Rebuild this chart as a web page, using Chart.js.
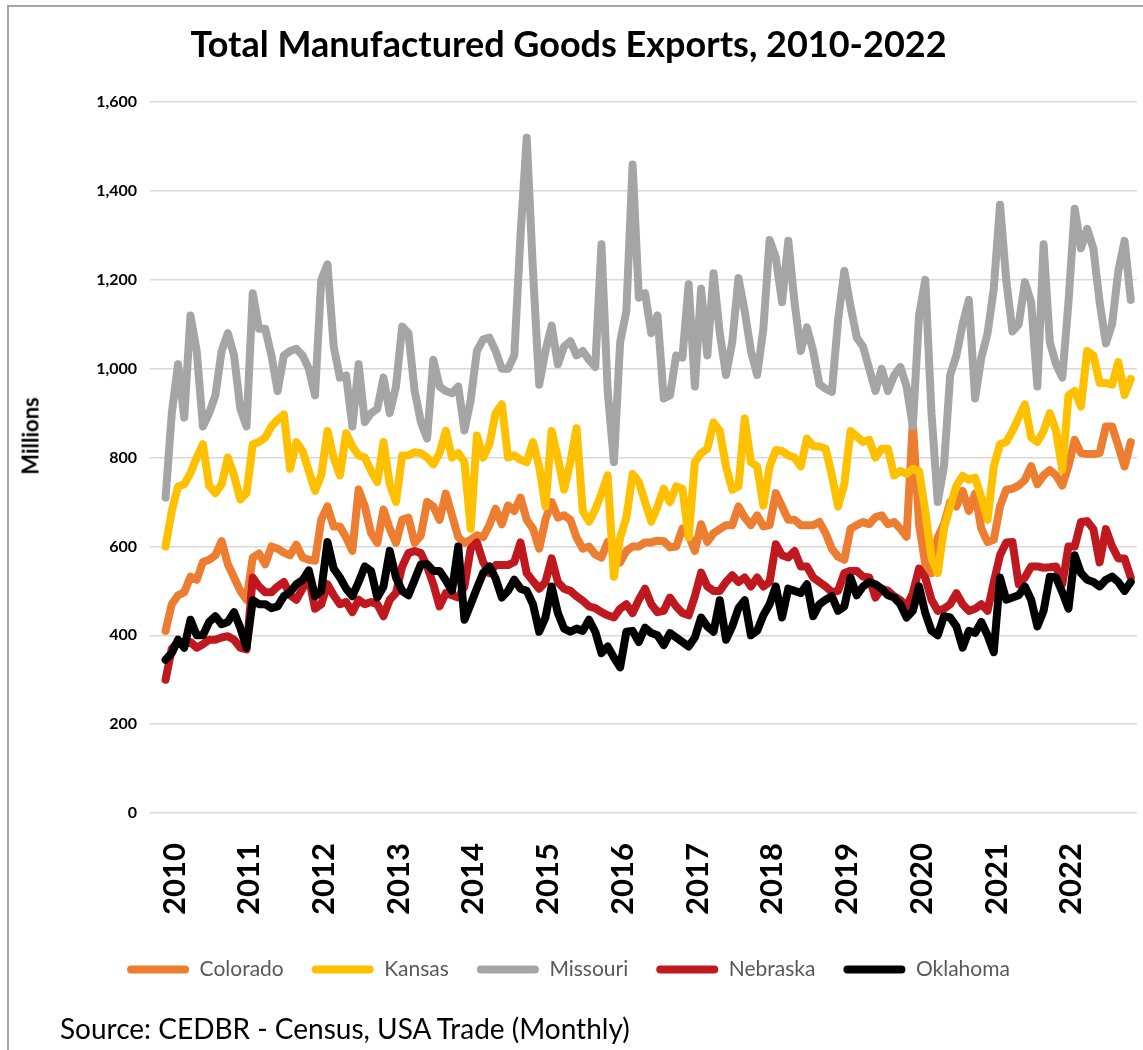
<!DOCTYPE html>
<html lang="en">
<head>
<meta charset="UTF-8">
<title>Total Manufactured Goods Exports, 2010-2022</title>
<script src="https://cdn.jsdelivr.net/npm/chart.js@4"></script>
<style>
  html, body { margin: 0; background: #fff; }
  body { width: 1143px; height: 1050px; position: relative; overflow: hidden; font-family: Lato, "Open Sans", sans-serif; }
  .frame { position: absolute; left: 7px; top: 5px; width: 1200px; height: 1100px; border: 2px solid #a6a6a6; box-sizing: border-box; }
  #chart { position: absolute; left: 0; top: 0; }
  .ytitle { position: absolute; left: 30px; top: 436px; transform: translate(-50%, -50%) rotate(-90deg); font-weight: 700; font-size: 22px; white-space: nowrap; color: #000; }
  .source { position: absolute; left: 60px; top: 1028px; transform: translateY(-50%); font-size: 28px; color: #000; white-space: nowrap; }
</style>
</head>
<body>
<div class="frame"></div>
<canvas id="chart" width="1143" height="1050"></canvas>
<div class="ytitle">Millions</div>
<div class="source">Source: CEDBR - Census, USA Trade (Monthly)</div>

<script>
  // tick labels, one per January
  const years = ['2010', '2011', '2012', '2013', '2014', '2015', '2016',
                 '2017', '2018', '2019', '2020', '2021', '2022'];

  const states = ['Colorado', 'Kansas', 'Missouri', 'Nebraska', 'Oklahoma'];

  // monthly values, millions of dollars, Jan 2010 .. Dec 2022 (one row per year)
  const colorado = [
    410, 470, 490, 497, 532, 525, 565, 570, 580, 612, 560, 530,
    500, 480, 575, 584, 560, 600, 595, 586, 580, 604, 575, 570,
    568, 660, 690, 645, 645, 620, 590, 728, 690, 630, 608, 683,
    640, 608, 660, 665, 608, 625, 700, 690, 660, 719, 670, 621,
    608, 615, 625, 621, 648, 685, 650, 692, 680, 710, 660, 640,
    595, 660, 700, 665, 670, 660, 620, 595, 600, 582, 575, 610,
    585, 564, 590, 600, 600, 609, 609, 613, 612, 598, 600, 640,
    625, 590, 650, 610, 630, 639, 648, 648, 690, 665, 648, 670,
    645, 648, 720, 690, 660, 660, 648, 648, 648, 655, 630, 595,
    577, 570, 640, 648, 655, 650, 666, 670, 650, 655, 640, 622,
    880, 650, 560, 540, 620, 650, 700, 690, 725, 680, 719, 640,
    610, 615, 690, 728, 730, 737, 750, 781, 740, 760, 772, 760,
    737, 781, 840, 810, 808, 808, 810, 870, 870, 826, 780, 835
  ];

  const kansas = [
    600, 680, 735, 740, 765, 800, 830, 737, 720, 740, 800, 760,
    706, 720, 830, 835, 845, 870, 885, 897, 775, 835, 815, 770,
    725, 760, 860, 800, 760, 855, 825, 805, 800, 770, 745, 835,
    740, 700, 805, 805, 812, 810, 800, 785, 810, 860, 800, 810,
    790, 640, 850, 800, 830, 900, 920, 800, 805, 795, 790, 835,
    780, 690, 860, 800, 728, 790, 866, 680, 656, 683, 719, 760,
    532, 620, 665, 763, 745, 700, 656, 690, 730, 700, 735, 730,
    620, 790, 810, 820, 879, 860, 780, 728, 735, 888, 790, 780,
    692, 780, 817, 815, 805, 800, 780, 843, 826, 825, 820, 760,
    690, 740, 860, 848, 835, 840, 800, 820, 820, 760, 770, 763,
    775, 770, 680, 576, 540, 640, 690, 737, 759, 750, 755, 710,
    660, 780, 830, 835, 860, 890, 920, 845, 835, 860, 900, 860,
    772, 940, 950, 915, 1040, 1030, 968, 968, 964, 1015, 941, 977
  ];

  const missouri = [
    710, 900, 1010, 890, 1120, 1040, 870, 900, 940, 1040, 1080, 1030,
    910, 870, 1170, 1090, 1090, 1030, 950, 1030, 1040, 1045, 1030, 1000,
    940, 1200, 1235, 1050, 980, 985, 870, 1010, 880, 900, 910, 980,
    900, 960, 1095, 1080, 950, 880, 843, 1020, 960, 950, 945, 960,
    861, 930, 1040, 1066, 1070, 1040, 1000, 1000, 1030, 1300, 1520, 1220,
    964, 1040, 1097, 1010, 1050, 1062, 1030, 1040, 1020, 1004, 1280, 950,
    790, 1060, 1130, 1460, 1160, 1170, 1080, 1120, 933, 940, 1030, 1025,
    1190, 960, 1180, 1030, 1215, 1080, 986, 1060, 1204, 1130, 1040, 986,
    1090, 1290, 1250, 1150, 1288, 1150, 1040, 1093, 1040, 965, 955, 948,
    1110, 1220, 1140, 1070, 1050, 1000, 950, 1000, 950, 985, 1004, 960,
    870, 1120, 1200, 900, 700, 780, 986, 1030, 1100, 1155, 933, 1025,
    1080, 1180, 1369, 1200, 1084, 1100, 1195, 1150, 960, 1280, 1060, 1010,
    980, 1150, 1360, 1271, 1315, 1270, 1150, 1057, 1100, 1220, 1288, 1155
  ];

  const nebraska = [
    300, 370, 385, 380, 385, 372, 380, 390, 390, 395, 398, 390,
    372, 368, 530, 510, 497, 497, 510, 520, 490, 480, 505, 530,
    460, 470, 515, 490, 470, 475, 452, 480, 470, 475, 470, 443,
    480, 495, 555, 585, 590, 585, 555, 515, 465, 495, 490, 485,
    510, 595, 609, 565, 540, 558, 558, 558, 565, 609, 540, 522,
    505, 520, 573, 520, 505, 500, 488, 478, 465, 461, 452, 445,
    440, 460, 470, 450, 480, 505, 470, 452, 455, 485, 465, 450,
    445, 488, 541, 510, 500, 500, 520, 535, 520, 530, 510, 530,
    510, 520, 605, 580, 575, 590, 555, 555, 530, 520, 510, 497,
    500, 540, 545, 545, 532, 530, 485, 505, 500, 488, 479, 465,
    495, 550, 530, 480, 455, 460, 470, 495, 470, 455, 460, 470,
    455, 520, 580, 609, 610, 515, 530, 555, 555, 552, 553, 555,
    515, 600, 600, 655, 657, 639, 564, 639, 600, 573, 573, 530
  ];

  const oklahoma = [
    345, 360, 390, 372, 435, 400, 400, 430, 443, 425, 430, 452,
    417, 372, 479, 470, 470, 461, 465, 488, 497, 515, 524, 546,
    488, 500, 610, 550, 530, 505, 488, 520, 555, 545, 485, 510,
    590, 530, 500, 490, 525, 560, 560, 545, 545, 524, 500, 600,
    435, 470, 506, 540, 555, 528, 485, 500, 525, 505, 500, 470,
    408, 440, 510, 450, 415, 408, 415, 410, 435, 408, 360, 375,
    350, 328, 408, 410, 385, 417, 405, 400, 378, 405, 395, 385,
    375, 395, 440, 420, 408, 479, 390, 420, 461, 479, 400, 410,
    445, 470, 510, 440, 505, 500, 495, 515, 443, 470, 480, 488,
    455, 465, 530, 490, 510, 520, 515, 505, 490, 485, 470, 440,
    455, 510, 450, 410, 400, 443, 440, 420, 372, 410, 405, 430,
    400, 362, 530, 480, 485, 490, 510, 480, 420, 455, 532, 530,
    497, 460, 580, 540, 525, 520, 510, 525, 532, 520, 500, 520
  ];

  const seriesValues = [colorado, kansas, missouri, nebraska, oklahoma];
  const colors = ['#ed7d31', '#ffc000', '#a5a5a5', '#c0181f', '#000000'];

  const font = 'Lato, "Open Sans", sans-serif';

  const datasets = states.map((name, i) => ({
    label: name,
    data: seriesValues[i].map((v, m) => ({ x: m, y: v })),
    borderColor: colors[i],
    backgroundColor: colors[i],
    borderWidth: 8,
    borderJoinStyle: 'round',
    borderCapStyle: 'round',
    pointRadius: 0,
    tension: 0,
    order: states.length - i   // later series drawn on top, like the original
  }));

  new Chart(document.getElementById('chart'), {
    type: 'line',
    data: { datasets },
    options: {
      responsive: false,
      animation: false,
      layout: { padding: { left: 0, right: 6, top: 0, bottom: 60 } },
      plugins: {
        title: {
          display: true,
          text: 'Total Manufactured Goods Exports, 2010-2022',
          color: '#000',
          font: { family: font, size: 36, weight: 'bold' },
          padding: { top: 24, bottom: 35 }
        },
        legend: {
          position: 'bottom',
          labels: {
            boxWidth: 62,
            boxHeight: 8,
            padding: 28,
            color: '#595959',
            useBorderRadius: true,
            borderRadius: 4,
            font: { family: font, size: 21 },
            generateLabels: (chart) => chart.data.datasets.map((ds, i) => ({
              text: ds.label,
              fillStyle: ds.borderColor,
              strokeStyle: ds.borderColor,
              lineWidth: 0,
              borderRadius: 4,
              fontColor: '#595959',
              hidden: !chart.isDatasetVisible(i),
              datasetIndex: i
            }))
          }
        },
        tooltip: { enabled: false }
      },
      scales: {
        x: {
          type: 'linear',
          min: -2.5,
          max: 156,
          grid: { display: false },
          border: { display: false },
          afterBuildTicks: (scale) => {
            scale.ticks = years.map((y, k) => ({ value: k * 12 }));
          },
          afterFit: (scale) => { scale.height = 118; },
          ticks: {
            autoSkip: false,
            minRotation: 90,
            maxRotation: 90,
            padding: 22,
            labelOffset: 9,
            color: '#000',
            font: { family: font, size: 31, weight: 'bold' },
            callback: (value, index) => years[index]
          }
        },
        y: {
          min: 0,
          max: 1600,
          afterFit: (scale) => { scale.width = 150; },
          grid: { color: '#d9d9d9', lineWidth: 1.5, drawTicks: false },
          border: { display: false },
          ticks: {
            stepSize: 200,
            padding: 13,
            color: '#000',
            font: { family: font, size: 16, weight: 'bold' },
            callback: (value) => value.toLocaleString('en-US')
          }
        }
      }
    }
  });
</script>
</body>
</html>
